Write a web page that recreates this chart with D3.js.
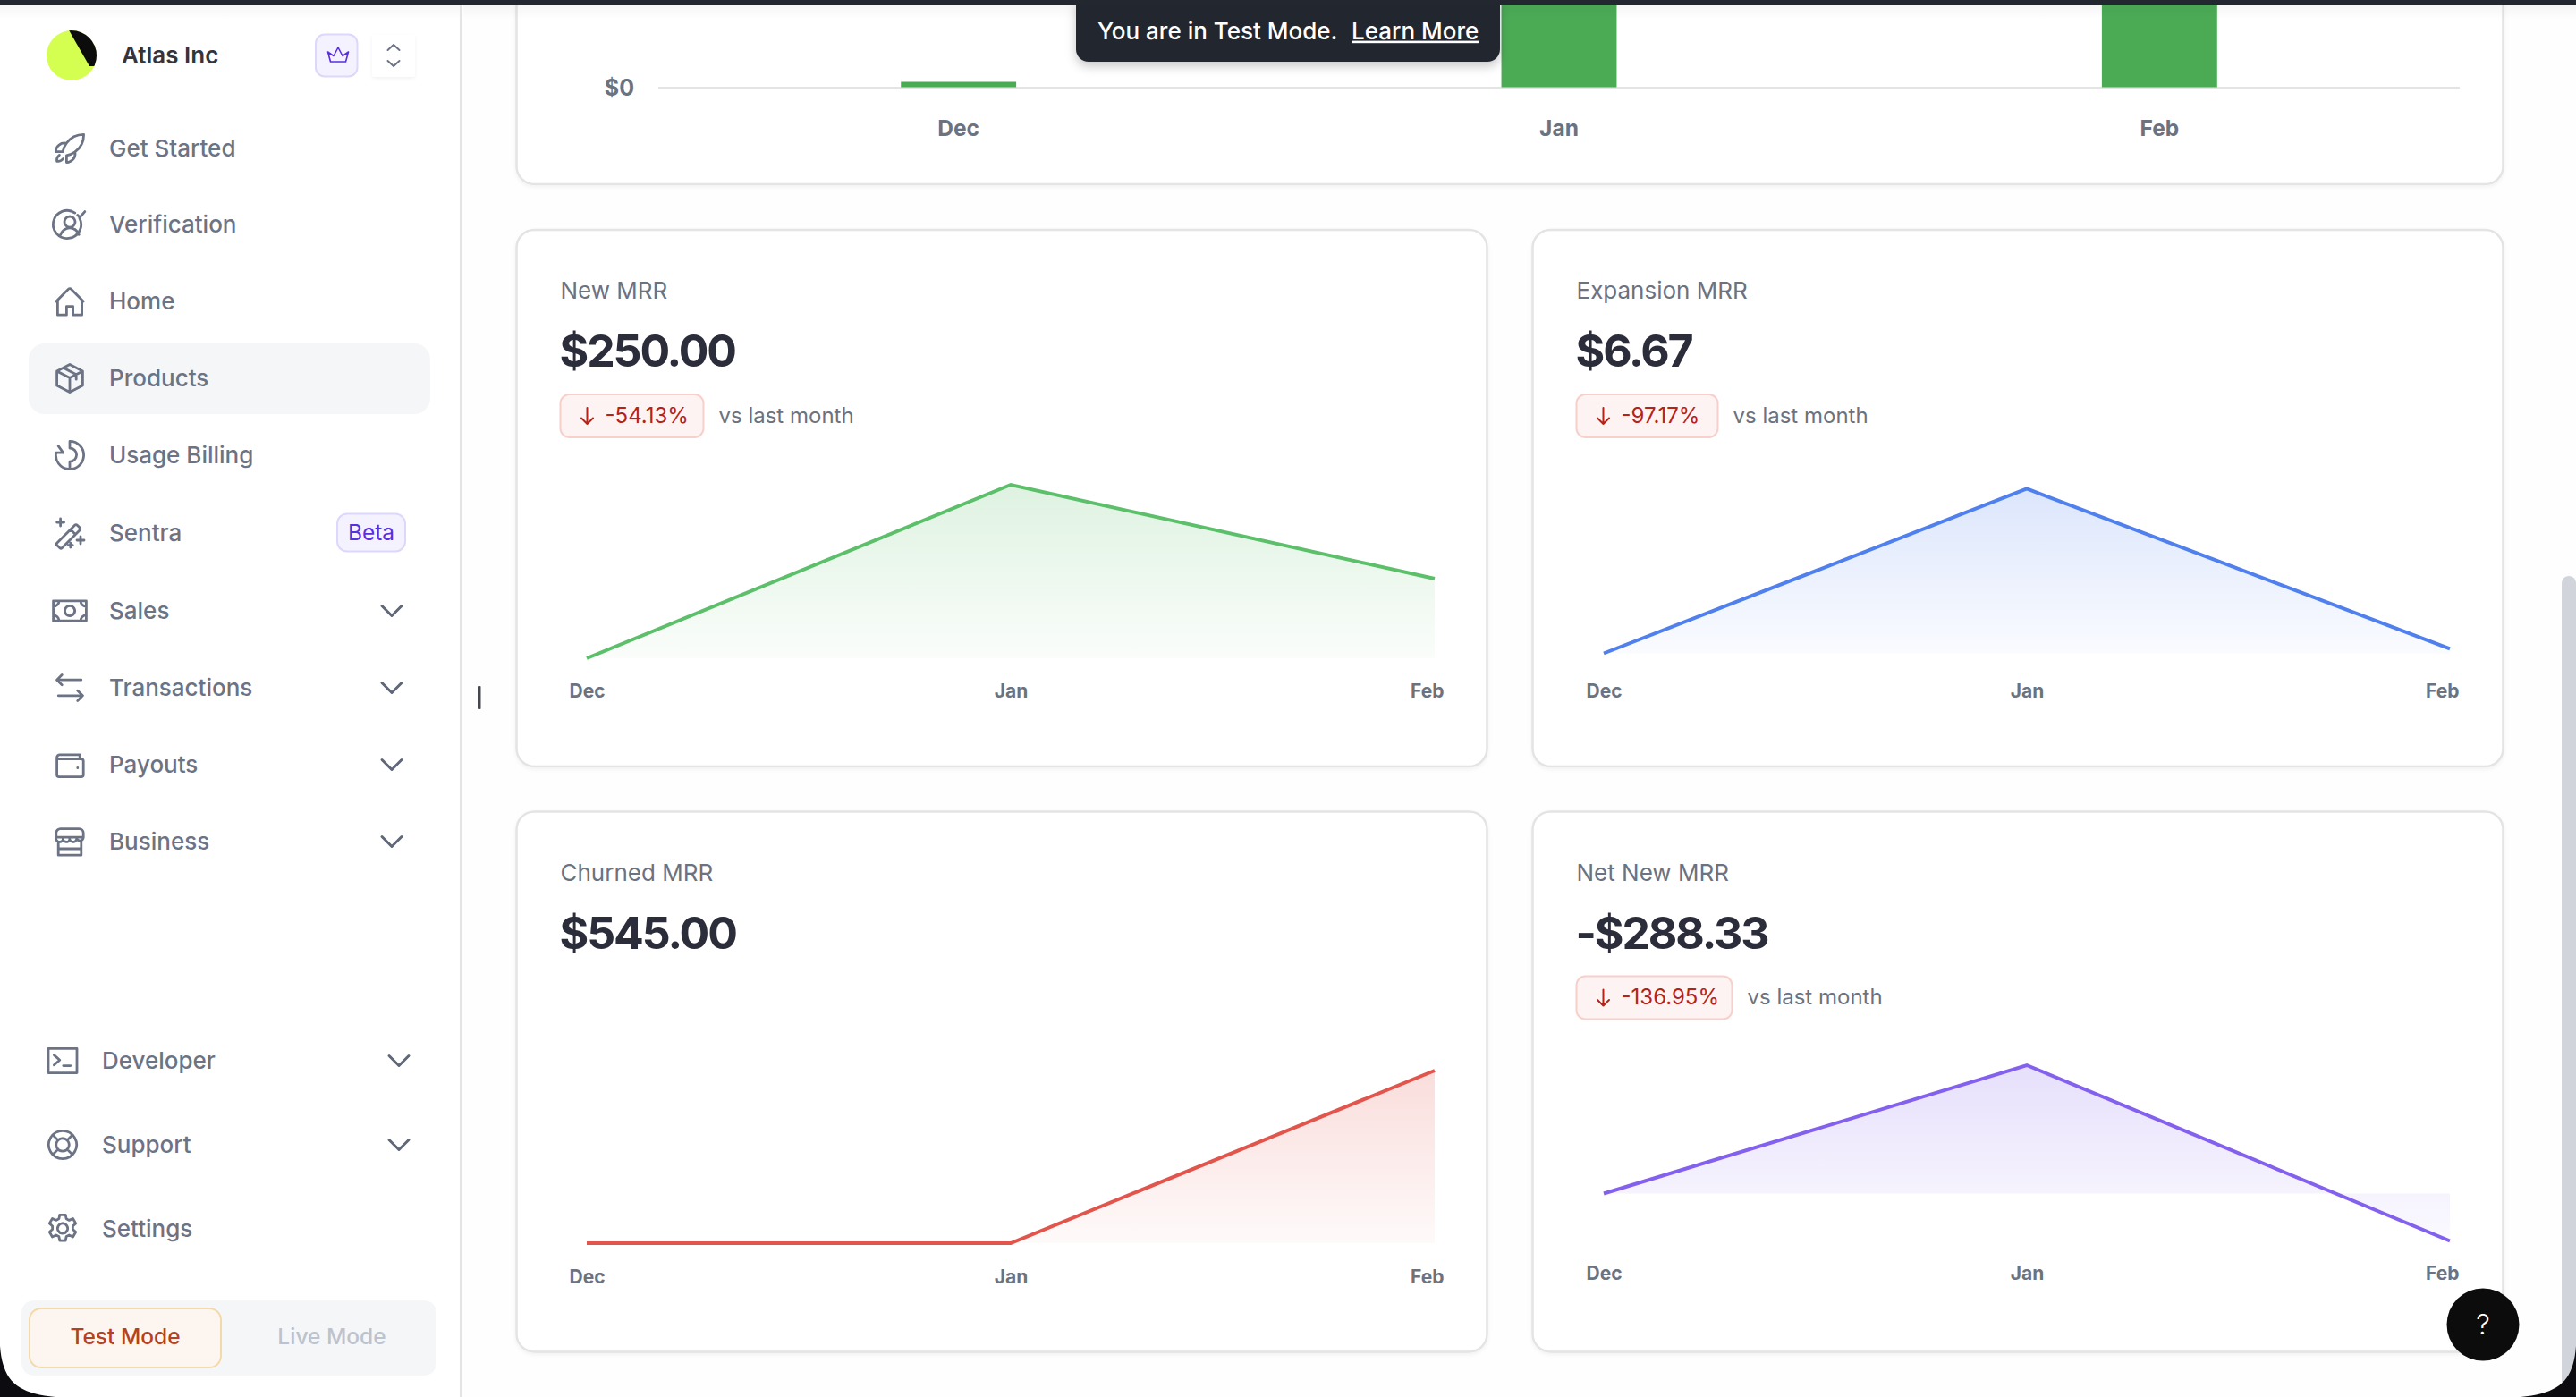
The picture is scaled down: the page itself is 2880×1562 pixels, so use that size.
<!DOCTYPE html>
<html>
<head>
<meta charset="utf-8">
<script src="https://cdn.jsdelivr.net/npm/d3@7"></script>
<style>
  html, body { margin: 0; padding: 0; background: #fff; overflow: hidden; }
  svg { display: block; font-family: Inter, sans-serif; }
  .nav { font-size: 26px; font-weight: 500; fill: #6b7385; }
  .icon { fill: none; stroke: #6b7385; stroke-width: 1.75; stroke-linecap: round; stroke-linejoin: round; }
  .chev { fill: none; stroke: #5f6778; stroke-width: 3; stroke-linecap: round; stroke-linejoin: round; }
  .tick text { font-family: Inter, sans-serif; font-weight: 700; fill: #6b7280; }
</style>
</head>
<body>
<svg id="page" width="2880" height="1562"></svg>
<script>
var months = ['Dec', 'Jan', 'Feb']

// the top chart is cut off by the scroll position, Jan and Feb run out of view
var mrrBars = [8, 780.67, 492.34]

var newMrr = [0, 545, 250]
var expansionMrr = [0, 235.67, 6.67]
var churnedMrr = [0, 0, 545]
var netNewMrr = [0, 780.67, -288.33]

var cardTitles = ['New MRR', 'Expansion MRR', 'Churned MRR', 'Net New MRR']
var cardTotals = ['$250.00', '$6.67', '$545.00', '-$288.33']
var cardChanges = ['-54.13%', '-97.17%', null, '-136.95%']

var navTop = ['Get Started', 'Verification', 'Home', 'Products', 'Usage Billing', 'Sentra', 'Sales', 'Transactions', 'Payouts', 'Business']
var navBottom = ['Developer', 'Support', 'Settings']

var svg = d3.select('#page')
var defs = svg.append('defs')

function txt (parent, x, y, s, size, weight, fill, anchor) {
  return parent.append('text')
    .attr('x', x)
    .attr('y', y)
    .attr('dy', '0.35em')
    .attr('font-size', size)
    .attr('font-weight', weight)
    .attr('fill', fill)
    .attr('text-anchor', anchor || 'start')
    .text(s)
}

var shadow = defs.append('filter').attr('id', 'soft')
  .attr('x', '-5%').attr('y', '-5%').attr('width', '110%').attr('height', '115%')
shadow.append('feDropShadow')
  .attr('dx', 0).attr('dy', 2).attr('stdDeviation', 2)
  .attr('flood-color', '#000').attr('flood-opacity', 0.05)

var toastShadow = defs.append('filter').attr('id', 'toastShadow')
  .attr('x', '-5%').attr('y', '-20%').attr('width', '110%').attr('height', '150%')
toastShadow.append('feDropShadow')
  .attr('dx', 0).attr('dy', 5).attr('stdDeviation', 6)
  .attr('flood-color', '#000').attr('flood-opacity', 0.22)

var topFade = defs.append('linearGradient').attr('id', 'topFade')
  .attr('x1', 0).attr('y1', 0).attr('x2', 0).attr('y2', 1)
topFade.append('stop').attr('offset', 0).attr('stop-color', '#000').attr('stop-opacity', 0.035)
topFade.append('stop').attr('offset', 1).attr('stop-color', '#000').attr('stop-opacity', 0)

// background
svg.append('rect').attr('width', 2880).attr('height', 1562).attr('fill', '#fefefe')

// top MRR card, only its lower part is on screen
var topCard = svg.append('g')
topCard.append('rect')
  .attr('x', 577.5).attr('y', -60).attr('width', 2221).attr('height', 266)
  .attr('rx', 20).attr('fill', '#fff')
  .attr('stroke', '#e4e4e4').attr('stroke-width', 2.5)
  .attr('filter', 'url(#soft)')

var barX = d3.scaleBand().domain(months).range([736, 2750])
  .paddingInner(0.808).paddingOuter(0.404)
var barY = d3.scaleLinear().domain([0, 100]).range([97.5, 22.5])

var barAxis = topCard.append('g')
  .attr('transform', 'translate(736,0)')
  .call(d3.axisLeft(barY).tickValues([0]).tickFormat(d3.format('$')).tickSize(-2014).tickPadding(27))
barAxis.select('.domain').remove()
barAxis.selectAll('.tick line').attr('stroke', '#e4e4e4').attr('stroke-width', 2.2)
barAxis.selectAll('.tick text').attr('font-size', 25).attr('y', 1)

topCard.selectAll('.bar')
  .data(months)
  .enter().append('rect')
  .attr('class', 'bar')
  .attr('x', function (d) { return barX(d) })
  .attr('width', barX.bandwidth())
  .attr('y', function (d, i) { return barY(mrrBars[i]) })
  .attr('height', function (d, i) { return barY(0) - barY(mrrBars[i]) })
  .attr('fill', '#4bab55')

var barMonths = topCard.append('g')
  .attr('transform', 'translate(0,143.5)')
  .call(d3.axisBottom(barX).tickSize(0).tickPadding(0))
barMonths.select('.domain').remove()
barMonths.selectAll('.tick text').attr('font-size', 24.5).attr('dy', '0.35em').attr('y', 0)

// metric cards
var cardBoxes = [
  {x: 577.5, y: 257, w: 1085, h: 600, dec: 656, feb: 1604, top: 542, bottom: 736, axis: 773},
  {x: 1713.5, y: 257, w: 1085, h: 600, dec: 1793, feb: 2739, top: 546.5, bottom: 730.5, axis: 773},
  {x: 577.5, y: 907.5, w: 1085, h: 604, dec: 656, feb: 1604, top: 1197, bottom: 1390, axis: 1428},
  {x: 1713.5, y: 907.5, w: 1085, h: 604, dec: 1793, feb: 2739, top: 1191, bottom: 1387.5, axis: 1424}
]
var cardSeries = [newMrr, expansionMrr, churnedMrr, netNewMrr]
var cardColors = ['#5cbf6a', '#4f80ee', '#e2554c', '#8360ee']
var badgeWidths = [160, 158, 0, 174]

cardBoxes.forEach(function (box, i) {
  var g = svg.append('g')
  var values = cardSeries[i]
  var color = cardColors[i]

  g.append('rect')
    .attr('x', box.x).attr('y', box.y).attr('width', box.w).attr('height', box.h)
    .attr('rx', 20).attr('fill', '#fff')
    .attr('stroke', '#e4e4e4').attr('stroke-width', 2.5)
    .attr('filter', 'url(#soft)')

  var left = box.x + 49
  txt(g, left, box.y + 68, cardTitles[i], 26, 400, '#6b7280')
  txt(g, left - 1, box.y + 135.5, cardTotals[i], 50, 700, '#2c2d3a').attr('letter-spacing', -2.1)

  if (cardChanges[i]) {
    var badge = g.append('g').attr('transform', 'translate(' + left + ',' + (box.y + 184) + ')')
    var w = badgeWidths[i]
    badge.append('rect')
      .attr('x', 0).attr('y', 0).attr('width', w).attr('height', 48).attr('rx', 10)
      .attr('fill', '#fdf3f2').attr('stroke', '#f8d0cb').attr('stroke-width', 2)
    badge.append('path')
      .attr('d', 'M30 15V33M23.5 26.5L30 33L36.5 26.5')
      .attr('fill', 'none').attr('stroke', '#b42318').attr('stroke-width', 2)
      .attr('stroke-linecap', 'round').attr('stroke-linejoin', 'round')
    txt(badge, 50, 23.5, cardChanges[i], 24, 400, '#b42318')
    txt(g, left + w + 17, box.y + 207.5, 'vs last month', 24, 400, '#6b7280')
  }

  var x = d3.scalePoint().domain(months).range([box.dec, box.feb])
  var y = d3.scaleLinear().domain([d3.min(values), d3.max(values)]).range([box.bottom, box.top])

  var gradId = 'fade' + i
  var grad = defs.append('linearGradient').attr('id', gradId)
    .attr('x1', 0).attr('y1', 0).attr('x2', 0).attr('y2', 1)
  grad.append('stop').attr('offset', 0).attr('stop-color', color).attr('stop-opacity', 0.2)
  grad.append('stop').attr('offset', 1).attr('stop-color', color).attr('stop-opacity', 0.03)

  var area = d3.area()
    .x(function (d, j) { return x(months[j]) })
    .y0(y(0))
    .y1(function (d) { return y(d) })
  var line = d3.line()
    .x(function (d, j) { return x(months[j]) })
    .y(function (d) { return y(d) })

  g.append('path').attr('d', area(values)).attr('fill', 'url(#' + gradId + ')')
  g.append('path').attr('d', line(values))
    .attr('fill', 'none').attr('stroke', color).attr('stroke-width', 4)

  var axis = g.append('g')
    .attr('transform', 'translate(0,' + box.axis + ')')
    .call(d3.axisBottom(x).tickSize(0).tickPadding(0))
  axis.select('.domain').remove()
  axis.selectAll('.tick text')
    .attr('font-size', 21).attr('y', 0).attr('dy', '0.35em')
  // Feb is pulled back inside the chart
  axis.selectAll('.tick text').filter(function (d) { return d === 'Feb' })
    .attr('text-anchor', 'end').attr('x', 10)
})

// fade under the top bar, toast and window chrome
svg.append('rect').attr('x', 518).attr('y', 6).attr('width', 2362).attr('height', 16).attr('fill', 'url(#topFade)')

var toast = svg.append('g')
toast.append('path')
  .attr('d', 'M1203 0H1677V55a14 14 0 0 1 -14 14H1217a14 14 0 0 1 -14 -14Z')
  .attr('fill', '#23272f').attr('filter', 'url(#toastShadow)')
txt(toast, 1227, 34.5, 'You are in Test Mode.', 26, 500, '#fff')
txt(toast, 1511, 34.5, 'Learn More', 26, 500, '#fff').attr('text-decoration', 'underline')

// sidebar
var side = svg.append('g')
side.append('rect').attr('width', 515).attr('height', 1562).attr('fill', '#fff')
side.append('rect').attr('x', 514).attr('width', 2).attr('height', 1562).attr('fill', '#e4e4e4')
side.append('rect').attr('y', 6).attr('width', 514).attr('height', 16).attr('fill', 'url(#topFade)')

defs.append('clipPath').attr('id', 'logoClip').append('circle').attr('cx', 80).attr('cy', 62).attr('r', 28)
side.append('circle').attr('cx', 80).attr('cy', 62).attr('r', 28).attr('fill', '#d4ff50')
side.append('path').attr('d', 'M76 32L100 74H110V32Z').attr('fill', '#0c0c0c').attr('clip-path', 'url(#logoClip)')
txt(side, 136, 62, 'Atlas Inc', 26, 600, '#34343c')

side.append('rect').attr('x', 353).attr('y', 38.5).attr('width', 46.5).attr('height', 47).attr('rx', 10)
  .attr('fill', '#f4f2fe').attr('stroke', '#dcd7fb').attr('stroke-width', 2)
side.append('path')
  .attr('d', 'M366.5 58L369.5 69H386.5L389.5 58L383 62.5L378 53L373 62.5Z')
  .attr('fill', 'none').attr('stroke', '#5a2fe0').attr('stroke-width', 1.6).attr('stroke-linejoin', 'round')

side.append('rect').attr('x', 416).attr('y', 39).attr('width', 48).attr('height', 47).attr('rx', 3)
  .attr('fill', '#fff').attr('filter', 'url(#soft)')
side.append('path').attr('d', 'M433.5 56L440 50L446.5 56M433.5 68L440 74L446.5 68')
  .attr('fill', 'none').attr('stroke', '#6b7385').attr('stroke-width', 2).attr('stroke-linecap', 'round').attr('stroke-linejoin', 'round')

side.append('rect').attr('x', 32).attr('y', 384).attr('width', 449).attr('height', 79).attr('rx', 18).attr('fill', '#f5f6f8')

var icons = {
  'Get Started': 'M15.6 14.4a6 6 0 0 1-5.85 7.35v-4.8m5.85-2.55A15 15 0 0 0 21.75 2.25 15 15 0 0 0 9.63 8.4m5.97 6a15 15 0 0 1-5.85 2.55m-.12-8.55a6 6 0 0 0-7.38 5.85h4.8m2.58-5.85a15 15 0 0 0-2.58 5.85m-2.3 2.4a4.5 4.5 0 0 0-1.75 4.3 4.5 4.5 0 0 0 4.3-1.75',
  'Verification': 'M18.8 7.5a9.75 9.75 0 1 1-3.2-3.6M12 6.5a3.7 3.7 0 1 0 .01 0M5.6 19c1.2-2.7 3.6-4.6 6.4-4.6s5.2 1.9 6.4 4.6M17.5 5.5l1.5 1.5L22.5 3',
  'Home': 'M2.5 12L11.2 3.3a1.1 1.1 0 0 1 1.6 0L21.5 12M3.5 11V21.5H9.75v-6h4.5v6H20.5V11',
  'Products': 'M12 2.25L21 7v10l-9 4.75L3 17V7ZM3 7l9 4.75L21 7M12 11.75v10M7.5 4.6l9 4.75v3.4',
  'Usage Billing': 'M12 2.25a9.75 9.75 0 1 1-9.6 8h5M12 2.25V7a4.7 4.7 0 0 1 0 9.5V21.7M7.4 10.25L4 5.5',
  'Sentra': 'M3 19L15.5 6.5a1.2 1.2 0 0 1 1.7 0l1.8 1.8a1.2 1.2 0 0 1 0 1.7L6.5 22.5a1 1 0 0 1-1.4 0L3 20.4a1 1 0 0 1 0-1.4ZM12.5 9.5l3 3M5.5 2v5M3 4.5h5M19.5 14.5v5M17 17h5M12.5 19v3M11 20.5h3',
  'Sales': 'M.5 5h23v14H.5ZM12 8.5a3.5 3.5 0 1 0 .01 0M.5 9A4 4 0 0 0 4.5 5M19.5 5a4 4 0 0 0 4 4M.5 15a4 4 0 0 1 4 4M19.5 19a4 4 0 0 1 4-4',
  'Transactions': 'M6.5 3L3 6.5h17M3 6.5L6.5 10M17.5 14L21 17.5H4M21 17.5L17.5 21',
  'Payouts': 'M3 7a2 2 0 0 1 2-2h14v3M3 7v12a1.5 1.5 0 0 0 1.5 1.5h15.5a1.5 1.5 0 0 0 1.5-1.5V9.5A1.5 1.5 0 0 0 20 8H4.5A1.5 1.5 0 0 1 3 7ZM17.5 14.2v.1',
  'Business': 'M2.5 9V6a3 3 0 0 1 3-3h13a3 3 0 0 1 3 3v3M2.5 9h19M2.5 9a2.4 2.4 0 0 0 4.8 1.5M7.3 9a2.4 2.4 0 0 0 4.7 1.5M12 9a2.4 2.4 0 0 0 4.7 1.5M16.7 9a2.4 2.4 0 0 0 4.8 0M4 12.5V21.5H20V12.5M4 17H20',
  'Developer': 'M2 3.5h20v17H2ZM6 8l4 3.5L6 15M12.5 15.5h5',
  'Support': 'M12 2.25a9.75 9.75 0 1 0 .01 0M12 7.5a4.5 4.5 0 1 0 .01 0M5.1 5.1l3.7 3.7M18.9 5.1l-3.7 3.7M5.1 18.9l3.7-3.7M18.9 18.9l-3.7-3.7',
  'Settings': 'M10 2.5h4l.6 2.8 2 1 2.6-1.2 2 3.4-2.1 1.9v2.2l2.1 1.9-2 3.4-2.6-1.2-2 1-.6 2.8h-4l-.6-2.8-2-1-2.6 1.2-2-3.4 2.1-1.9v-2.2L2.8 8.5l2-3.4 2.6 1.2 2-1ZM12 8.5a3.5 3.5 0 1 0 .01 0'
}

var navY = [166, 251, 337, 423, 509, 596, 683, 769, 855, 941]
var navYBottom = [1186, 1280, 1373.5]
var withChevron = ['Sales', 'Transactions', 'Payouts', 'Business', 'Developer', 'Support']

function navRow (name, y, iconX, textX, chevX) {
  side.append('path').attr('class', 'icon').attr('d', icons[name])
    .attr('transform', 'translate(' + (iconX - 19.2) + ',' + (y - 19.2) + ') scale(1.6)')
  side.append('text').attr('class', 'nav').attr('x', textX).attr('y', y).attr('dy', '0.35em').text(name)
  if (withChevron.indexOf(name) > -1) {
    side.append('path').attr('class', 'chev')
      .attr('d', 'M' + (chevX - 11) + ' ' + (y - 5.5) + 'l11 11l11-11')
  }
}
navTop.forEach(function (name, i) { navRow(name, navY[i], 78, 122, 438) })
navBottom.forEach(function (name, i) { navRow(name, navYBottom[i], 70, 114, 446) })

side.append('rect').attr('x', 377).attr('y', 574.5).attr('width', 76).attr('height', 42).attr('rx', 11)
  .attr('fill', '#f4f2fe').attr('stroke', '#dcd7fb').attr('stroke-width', 2)
txt(side, 415, 595.5, 'Beta', 24.5, 400, '#5a2fe0', 'middle')

// test/live switch
side.append('rect').attr('x', 24).attr('y', 1454).attr('width', 464).attr('height', 84).attr('rx', 14).attr('fill', '#f5f6f8')
side.append('rect').attr('x', 33).attr('y', 1463).attr('width', 214).attr('height', 66).attr('rx', 13)
  .attr('fill', '#fdf6f0').attr('stroke', '#f4d9ab').attr('stroke-width', 2)
txt(side, 140, 1494.5, 'Test Mode', 24.5, 500, '#b5421f', 'middle')
txt(side, 371, 1494.5, 'Live Mode', 24.5, 500, '#bcc3ce', 'middle')

// cursor mark beside the sidebar
svg.append('rect').attr('x', 534).attr('y', 767).attr('width', 3.5).attr('height', 26).attr('rx', 1).attr('fill', '#45474d')

// scrollbar
svg.append('rect').attr('x', 2864).attr('y', 644).attr('width', 16).attr('height', 930).attr('rx', 8).attr('fill', '#d1d5db')

// help button
svg.append('circle').attr('cx', 2776).attr('cy', 1481).attr('r', 40.5).attr('fill', '#0c0c0c')
txt(svg, 2776, 1481, '?', 31, 300, '#fff', 'middle')

// window chrome
svg.append('rect').attr('width', 2880).attr('height', 6).attr('fill', '#23272f')
svg.append('path').attr('d', 'M0 1505C3 1545 20 1558 62 1562H0Z').attr('fill', '#0c0c10')
svg.append('path').attr('d', 'M2880 1505C2877 1545 2860 1558 2818 1562H2880Z').attr('fill', '#0c0c10')
</script>
</body>
</html>
